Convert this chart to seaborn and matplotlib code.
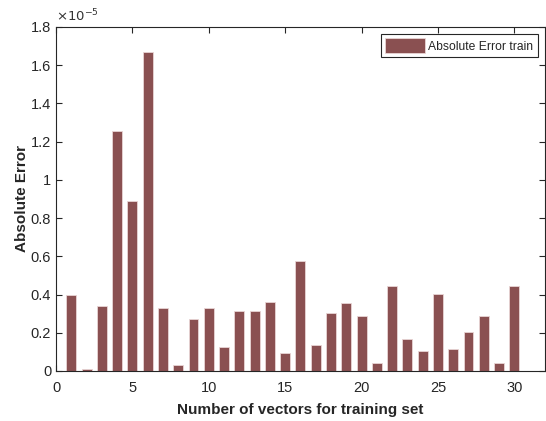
import matplotlib
matplotlib.use("Agg")
import matplotlib.pyplot as plt
import seaborn as sns
import numpy as np
from matplotlib.ticker import FuncFormatter, MultipleLocator

sns.set_theme(style="white")
plt.rcParams['font.family'] = ['Liberation Sans', 'DejaVu Sans']

vectors = list(range(1, 31))
# absolute error values in units of 1e-5
abs_error = [0.396, 0.010, 0.340, 1.256, 0.890, 1.671, 0.328, 0.031, 0.274, 0.328,
             0.126, 0.313, 0.313, 0.360, 0.093, 0.576, 0.134, 0.303, 0.354, 0.286,
             0.042, 0.445, 0.166, 0.106, 0.405, 0.115, 0.206, 0.286, 0.042, 0.445]
scale_exp = -5
x_ticks = [0, 5, 10, 15, 20, 25, 30]
y_ticks = [0, 0.2, 0.4, 0.6, 0.8, 1.0, 1.2, 1.4, 1.6, 1.8]

fig = plt.figure(figsize=(5.46, 4.21), dpi=100)
ax = fig.add_axes([0.1026, 0.1188, 0.8954, 0.8171])

color = "#8a5051"
sns.barplot(x=vectors, y=abs_error, native_scale=True, width=0.65, color=color,
            saturation=1, edgecolor="#e9d5d5", linewidth=0.6, ax=ax,
            label="Absolute Error train")

ax.set_xlim(0, 32)
ax.set_ylim(0, 1.8)
ax.set_xticks(x_ticks)
ax.set_yticks(y_ticks)
ax.yaxis.set_major_formatter(FuncFormatter(lambda v, p: f"{v:g}"))
ax.xaxis.set_major_formatter(FuncFormatter(lambda v, p: f"{v:g}"))
ax.tick_params(direction="in", length=4, width=0.8, colors="#262626",
               labelsize=10.5, top=True, right=True, labeltop=False, labelright=False,
               bottom=True, left=True)
ax.tick_params(axis="x", pad=7)
for s in ax.spines.values():
    s.set_color("#262626")
    s.set_linewidth(0.8)

ax.text(0.0, 1.008, r"$\times10^{%d}$" % scale_exp, transform=ax.transAxes,
        fontsize=9.5, color="#333333", ha="left", va="bottom")

ax.set_xlabel("Number of vectors for training set", fontsize=11, fontweight="bold",
              color="#262626", labelpad=6)
ax.set_ylabel("Absolute Error", fontsize=11, fontweight="bold", color="#262626",
              labelpad=1)

leg = ax.legend(loc="upper right", fontsize=8.7, frameon=True, fancybox=False,
                edgecolor="#262626", framealpha=1, borderpad=0.35, handlelength=3.3,
                handleheight=1.5, handletextpad=0.3, borderaxespad=0.6)
leg.get_frame().set_linewidth(0.8)

fig.savefig("out.png", dpi=100)
